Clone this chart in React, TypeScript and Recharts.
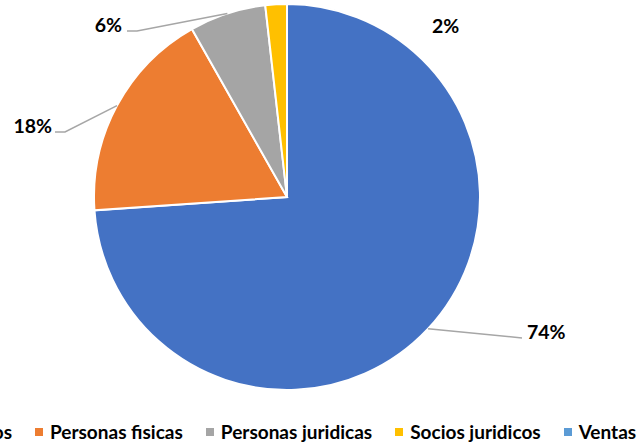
import React from 'react';
import { PieChart, Pie, Cell, Legend } from 'recharts';

const CATEGORIES = ['Socios fisicos', 'Personas fisicas', 'Personas juridicas', 'Socios juridicos', 'Ventas'];
const VALUES = [73.9, 17.9, 6.4, 1.8, 0];
const COLORS = ['#4472C4', '#ED7D31', '#A5A5A5', '#FFC000', '#5B9BD5'];

const data = CATEGORIES.map((name, i) => ({ name, value: VALUES[i] }));

const FONT = 'Lato, "Noto Sans", sans-serif';
const RAD = Math.PI / 180;

// label placement relative to pie centre (elbow point, end point, text pos)
const LABEL_LAYOUT: Record<number, { elbow?: [number, number]; end?: [number, number]; text: [number, number]; anchor: 'start' | 'end' }> = {
  0: { elbow: [235, 141], end: [235, 141], text: [240, 142], anchor: 'start' },
  1: { elbow: [-222, -65], end: [-232, -65], text: [-235, -64], anchor: 'end' },
  2: { elbow: [-150, -166], end: [-160, -166], text: [-165, -165], anchor: 'end' },
  3: { text: [145, -164], anchor: 'start' },
};

const renderLabel = (props: any) => {
  const { cx, cy, midAngle, outerRadius, index, percent, value } = props;
  if (!value) return null;
  const lay = LABEL_LAYOUT[index];
  if (!lay) return null;
  const sx = cx + outerRadius * Math.cos(-midAngle * RAD);
  const sy = cy + outerRadius * Math.sin(-midAngle * RAD);
  return (
    <g key={`lbl-${index}`}>
      {lay.elbow && lay.end && (
        <polyline
          points={`${sx},${sy} ${cx + lay.elbow[0]},${cy + lay.elbow[1]} ${cx + lay.end[0]},${cy + lay.end[1]}`}
          fill="none"
          stroke="#A6A6A6"
          strokeWidth={1.5}
        />
      )}
      <text
        x={cx + lay.text[0]}
        y={cy + lay.text[1]}
        textAnchor={lay.anchor}
        fontFamily={FONT}
        fontWeight={700}
        fontSize={19.5}
        fill="#000"
      >
        {`${Math.round(percent * 100)}%`}
      </text>
    </g>
  );
};

const renderLegend = () => {
  const itemStyle: React.CSSProperties = { display: 'flex', alignItems: 'center', whiteSpace: 'nowrap' };
  const sw = (c: string): React.CSSProperties => ({ width: 8, height: 8, background: c, marginRight: 7, flex: 'none' });
  return (
    <div style={{ position: 'relative', width: 637, height: 24, fontFamily: FONT, fontWeight: 700, fontSize: 19, color: '#000' }}>
      <div style={{ position: 'absolute', left: 35, top: 0, display: 'flex', alignItems: 'center' }}>
        <div style={{ ...itemStyle, position: 'absolute', right: '100%', marginRight: 23, top: 0 }}>
          <span style={sw(COLORS[0])} />
          <span>{CATEGORIES[0]}</span>
        </div>
        {CATEGORIES.slice(1).map((c, i) => (
          <div key={c} style={{ ...itemStyle, marginRight: 23 }}>
            <span style={sw(COLORS[i + 1])} />
            <span>{c}</span>
          </div>
        ))}
      </div>
    </div>
  );
};

export default function App() {
  return (
    <div style={{ position: 'absolute', left: 0, top: 0, width: 637, height: 448, overflow: 'hidden', background: '#fff' }}>
      <PieChart width={637} height={448} margin={{ top: 0, right: 0, bottom: 0, left: 0 }}>
        <Pie
          data={data}
          dataKey="value"
          nameKey="name"
          cx={287}
          cy={197}
          outerRadius={193}
          startAngle={90}
          endAngle={-270}
          stroke="#fff"
          strokeWidth={2}
          label={renderLabel}
          labelLine={false}
          isAnimationActive={false}
        >
          {data.map((d, i) => (
            <Cell key={d.name} fill={COLORS[i]} />
          ))}
        </Pie>
        <Legend
          content={renderLegend}
          wrapperStyle={{ position: 'absolute', left: 0, top: 420, width: 637, height: 24 }}
        />
      </PieChart>
    </div>
  );
}
